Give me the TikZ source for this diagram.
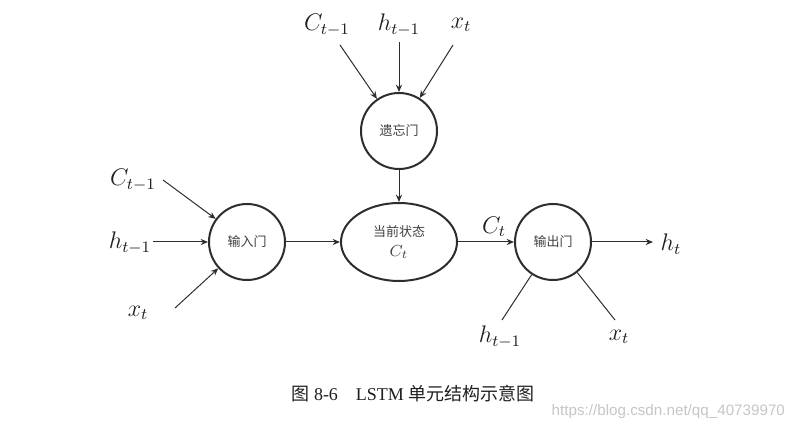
\documentclass[tikz,border=0pt]{standalone}
\usepackage{fontspec}
\setmainfont{Liberation Serif}
\newfontfamily\cjk{Noto Sans CJK SC}
\newfontfamily\wmfont{Liberation Sans}
\usetikzlibrary{arrows.meta,positioning,shapes.geometric}
\definecolor{lineclr}{RGB}{45,45,45}
\definecolor{txtclr}{RGB}{30,30,30}
\tikzset{
  gate/.style={circle, draw=lineclr, line width=1pt, minimum size=38pt,
    inner sep=0pt, text=txtclr!85, font=\cjk\fontsize{6.5}{8}\selectfont},
  statenode/.style={ellipse, draw=lineclr, line width=1pt, minimum width=58pt,
    minimum height=39pt, inner sep=0pt, align=center, text=txtclr!85,
    font=\cjk\fontsize{6.5}{10}\selectfont},
  flow/.style={-{Stealth[length=1.3mm,width=1.1mm]}, line width=0.5pt, lineclr},
  feed/.style={line width=0.5pt, lineclr},
  varlab/.style={text=txtclr, font=\fontsize{11.5}{14}\selectfont},
}

\begin{document}
\begin{tikzpicture}[x=0.5pt, y=-0.5pt]
  \useasboundingbox (0,0) rectangle (802,432);
  % gates and cell state
  \node[gate] (fg) at (399,131) {遗忘门};
  \node[gate] (ig) at (247,242) {输入门};
  \node[statenode] (cs) at (399,242) {当前状态\\{\fontsize{8}{10}\selectfont$C_t$}};
  \node[gate] (og) at (553,242) {输出门};
  % variable labels
  \node[varlab] (fgc) at (327,25) {$C_{t-1}$};
  \node[varlab] (fgh) at (399,25) {$h_{t-1}$};
  \node[varlab] (fgx) at (461,25) {$x_t$};
  \node[varlab] (igc) at (133,180) {$C_{t-1}$};
  \node[varlab] (igh) at (130,243) {$h_{t-1}$};
  \node[varlab] (igx) at (138,313) {$x_t$};
  \node[varlab] (ogh) at (500,337) {$h_{t-1}$};
  \node[varlab] (ogx) at (619,337) {$x_t$};
  \node[varlab] (ht) at (671,244) {$h_t$};
  \node[varlab] (ct) at (494,227) {$C_t$};
  % free ends of the connectors
  \coordinate (fgc0) at (340,45);
  \coordinate (fgh0) at (399,42);
  \coordinate (fgx0) at (453,45);
  \coordinate (igc0) at (163,180);
  \coordinate (igh0) at (153,242);
  \coordinate (igx0) at (175,308);
  \coordinate (ogh0) at (502,320);
  \coordinate (ogx0) at (615,320);
  \coordinate (ht0) at (653,242);
  % connectors
  \foreach \a in {fgc,fgh,fgx} \draw[flow] (\a0) -- (fg);
  \foreach \a in {igc,igh,igx} \draw[flow] (\a0) -- (ig);
  \foreach \a in {ogh,ogx} \draw[feed] (\a0) -- (og);
  \draw[flow] (fg) -- (cs);
  \draw[flow] (ig) -- (cs);
  \draw[flow] (cs) -- (og);
  \draw[flow] (og) -- (ht0);
  % caption and watermark
  \node[text=txtclr, font=\fontsize{9}{11}\selectfont] (cap) at (413,394)
    {{\cjk 图} 8-6\quad LSTM {\cjk 单元结构示意图}};
  \node[anchor=east, text=gray!45, font=\wmfont\fontsize{7.6}{9}\selectfont]
    (wm) at (792,412) {https://blog.csdn.net/qq\_40739970};
\end{tikzpicture}
\end{document}
